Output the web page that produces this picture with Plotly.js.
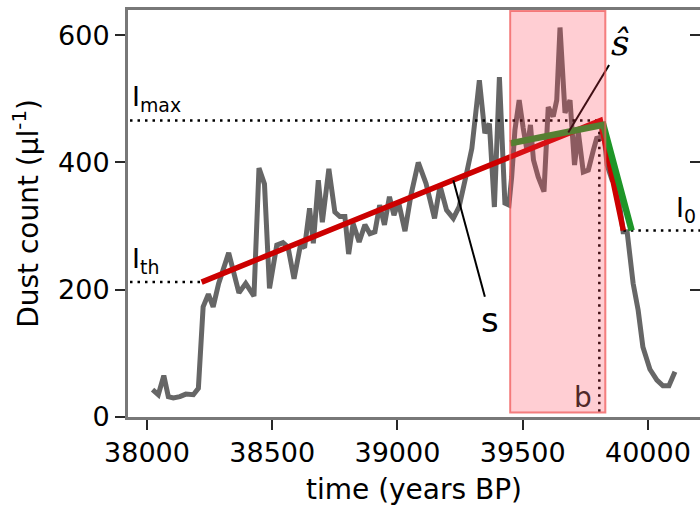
<!DOCTYPE html>
<html>
<head>
<meta charset="utf-8">
<script src="https://cdn.plot.ly/plotly-3.0.1.min.js"></script>
<style>html,body{margin:0;padding:0;overflow:hidden;background:#fff}#chart{width:700px;height:514px}</style>
</head>
<body>
<div id="chart"></div>
<script>
// Dust record (years BP, dust count per microlitre)
const time = [38022,38045,38067,38085,38105,38131,38155,38185,38205,38224,38245,38264,38286,38326,38367,38394,38427,38447,38469,38489,38518,38543,38563,38587,38613,38629,38649,38664,38684,38700,38726,38750,38770,38790,38805,38823,38847,38870,38890,38910,38929,38948,38968,38986,39004,39030,39054,39083,39114,39148,39170,39196,39223,39246,39276,39297,39327,39349,39367,39387,39407,39429,39445,39456,39469,39486,39502,39517,39531,39543,39562,39585,39602,39622,39636,39649,39669,39689,39707,39722,39742,39762,39782,39797,39809,39821,39837,39857,39877,39901,39917,39941,39961,39980,40008,40036,40060,40084,40108];
const dust = [43,35,65,32,30,32,36,35,45,173,193,173,210,258,195,210,190,391,366,202,270,274,267,217,271,266,328,273,372,306,390,322,315,315,256,304,275,302,288,291,333,302,346,317,338,292,349,400,367,312,363,325,312,330,383,422,529,446,461,330,534,336,333,377,451,498,454,419,459,404,377,354,487,472,498,612,478,498,396,448,385,388,419,440,435,459,396,372,364,291,291,210,168,110,75,58,49,49,71];

// Piecewise-linear fit s (red) and local fit ŝ (green)
const fitS_t = [38218, 39810, 39902];
const fitS_v = [212, 466, 293];
const fitShat_t = [39450, 39822, 39935];
const fitShat_v = [430, 459, 293];

// Levels and breakpoint
const I_max = 466, I_th = 212, I_0 = 293;
const b_time = 39806;
const windowRange = [39450, 39830];

// Axis ticks
const xTicks = [38000, 38500, 39000, 39500, 40000];
const yTicks = [0, 200, 400, 600];
const xRange = [37924, 40208];
const yRange = [0, 639.5];

const FONT = 'DejaVu Sans, sans-serif';
const dotDash = '2.5px,5px';

const traces = [
  {x: time, y: dust, mode: 'lines', line: {color: 'rgb(102,102,102)', width: 5}, hoverinfo: 'skip'},
  {x: [xRange[0] + 8, b_time], y: [I_max, I_max], mode: 'lines', line: {color: 'black', width: 2.5, dash: dotDash}},
  {x: [xRange[0] + 8, fitS_t[0]], y: [I_th, I_th], mode: 'lines', line: {color: 'black', width: 2.5, dash: dotDash}},
  {x: [fitS_t[2], xRange[1]], y: [I_0, I_0], mode: 'lines', line: {color: 'black', width: 2.5, dash: dotDash}},
  {x: [b_time, b_time], y: [I_max - 6, 3], mode: 'lines', line: {color: 'black', width: 2.5, dash: dotDash}},
  {x: fitS_t, y: fitS_v, mode: 'lines', line: {color: 'rgb(204,0,0)', width: 5.5}},
  {x: fitShat_t, y: fitShat_v, mode: 'lines', line: {color: 'rgb(30,150,40)', width: 6.5}},
  {x: [], y: [], yaxis: 'y2'}
];

const layout = {
  width: 700, height: 514,
  margin: {l: 128, r: 0, t: 10, b: 97},
  paper_bgcolor: 'white', plot_bgcolor: 'white',
  showlegend: false,
  font: {family: FONT, size: 28, color: 'black'},
  xaxis: {
    range: xRange, tickvals: xTicks, ticktext: xTicks.map(String),
    showgrid: false, zeroline: false,
    showline: true, mirror: true, linecolor: 'rgb(120,120,120)', linewidth: 3,
    ticks: 'outside', ticklen: 10, tickwidth: 2, tickcolor: 'rgb(40,40,40)',
    tickfont: {family: FONT, size: 27},
    title: {text: 'time (years BP)', font: {family: FONT, size: 28}, standoff: 12}
  },
  yaxis: {
    range: yRange, tickvals: yTicks, ticktext: yTicks.map(String),
    showgrid: false, zeroline: false,
    showline: true, linecolor: 'rgb(120,120,120)', linewidth: 3,
    ticks: 'outside', ticklen: 10, tickwidth: 2, tickcolor: 'rgb(40,40,40)',
    tickfont: {family: FONT, size: 27},
    title: {text: 'Dust count (μl<sup>-1</sup>)', font: {family: FONT, size: 28}, standoff: 12}
  },
  yaxis2: {
    overlaying: 'y', side: 'right', range: yRange, tickvals: [200, 400, 600],
    showticklabels: false, showgrid: false, zeroline: false, showline: false,
    ticks: 'inside', ticklen: 10, tickwidth: 2, tickcolor: 'rgb(40,40,40)'
  },
  shapes: [
    {type: 'line', xref: 'x', yref: 'y', x0: 39223, y0: 372, x1: 39349, y1: 189, line: {color: 'black', width: 2}, layer: 'above'},
    {type: 'line', xref: 'x', yref: 'y', x0: 39682, y0: 447, x1: 39845, y1: 553, line: {color: 'black', width: 2}, layer: 'above'},
    {type: 'rect', xref: 'x', yref: 'y', x0: windowRange[0], x1: windowRange[1], y0: 7, y1: 638,
     fillcolor: 'rgba(255,60,80,0.25)', line: {color: 'rgba(240,90,90,0.75)', width: 2}, layer: 'above'}
  ],
  annotations: [
    {x: xRange[0] + 6, y: I_max, xref: 'x', yref: 'y', xanchor: 'left', yanchor: 'bottom', yshift: 2, showarrow: false,
     text: 'I<sub>max</sub>', font: {family: FONT, size: 27, color: 'black'}},
    {x: xRange[0] + 6, y: I_th, xref: 'x', yref: 'y', xanchor: 'left', yanchor: 'bottom', yshift: 2, showarrow: false,
     text: 'I<sub>th</sub>', font: {family: FONT, size: 27, color: 'black'}},
    {x: 40200, y: I_0, xref: 'x', yref: 'y', xanchor: 'right', yanchor: 'bottom', yshift: 2, showarrow: false,
     text: 'I<sub>0</sub>', font: {family: FONT, size: 27, color: 'black'}},
    {x: 39370, y: 152, xref: 'x', yref: 'y', xanchor: 'center', yanchor: 'middle', showarrow: false,
     text: 's', font: {family: FONT, size: 34, color: 'black'}},
    {x: 39741, y: 30, xref: 'x', yref: 'y', xanchor: 'center', yanchor: 'middle', showarrow: false,
     text: 'b', font: {family: FONT, size: 28, color: 'rgb(80,40,40)'}},
    {x: 39890, y: 588, xref: 'x', yref: 'y', xanchor: 'center', yanchor: 'middle', showarrow: false,
     text: '<i>ŝ</i>', font: {family: 'DejaVu Serif, serif', size: 36, color: 'black'}}
  ]
};

Plotly.newPlot('chart', traces, layout, {displayModeBar: false, staticPlot: true});
</script>
</body>
</html>
